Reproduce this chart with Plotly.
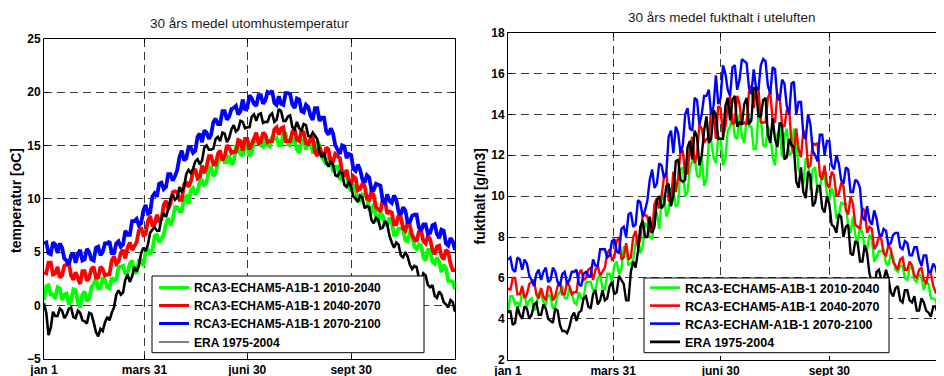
import plotly.graph_objects as go

# ---------------- data ----------------
days = list(range(1, 366, 2))  # day-of-year positions (every 2nd day)

tick_days = [1, 90, 181, 273, 365]
tick_labels = ["jan 1", "mars 31", "juni 30", "sept 30", "dec 31"]

names_left = ["RCA3-ECHAM5-A1B-1 2010-2040", "RCA3-ECHAM5-A1B-1 2040-2070",
              "RCA3-ECHAM5-A1B-1 2070-2100", "ERA 1975-2004"]
names_right = ["RCA3-ECHAM5-A1B-1 2010-2040", "RCA3-ECHAM5-A1B-1 2040-2070",
               "RCA3-ECHAM-A1B-1 2070-2100", "ERA 1975-2004"]

# 30-year mean outdoor temperature [oC]
temp_green = [
    0.5, 1.8, 1.9, 1.0, 1.0, 0.6, 1.7, 1.6, 0.5, 1.0, 1.1, 0.1, 0.4, 1.5, 1.4, 0.3, -0.2, 1.0, 1.3, 0.4,
    0.6, 1.7, 2.0, 2.5, 1.6, 1.6, 2.6, 2.4, 1.7, 1.6, 2.6, 2.3, 2.4, 3.6, 3.6, 3.7, 3.0, 3.0, 3.9, 4.2,
    3.2, 3.0, 4.2, 4.2, 3.7, 5.0, 5.2, 4.8, 5.2, 6.5, 6.6, 5.9, 6.2, 6.6, 7.6, 8.2, 7.5, 8.0, 9.2, 9.2,
    8.8, 8.8, 10.0, 10.2, 9.5, 10.8, 11.0, 10.4, 10.7, 11.6, 11.7, 11.3, 11.5, 12.8, 13.0, 12.1, 12.4, 13.4, 13.7, 14.0,
    13.4, 13.4, 14.1, 13.2, 13.4, 14.8, 14.7, 14.2, 14.0, 15.0, 14.9, 14.0, 14.3, 15.3, 15.5, 15.8, 15.0, 14.9, 15.8, 15.0,
    14.9, 15.8, 15.6, 15.7, 15.0, 15.0, 16.1, 16.1, 15.1, 15.0, 15.7, 15.4, 14.6, 14.3, 15.4, 15.6, 14.6, 15.2, 15.4, 14.4,
    14.5, 15.4, 15.0, 13.9, 13.6, 13.2, 13.9, 13.7, 12.5, 13.0, 13.0, 11.9, 11.8, 12.6, 12.2, 11.2, 10.7, 11.3, 10.9, 9.8,
    9.8, 10.4, 10.3, 10.2, 9.0, 8.8, 9.5, 8.4, 7.8, 8.7, 8.4, 7.6, 7.5, 8.2, 7.8, 6.6, 6.6, 7.2, 7.2, 7.2,
    6.1, 6.0, 6.8, 6.6, 5.5, 5.3, 5.7, 5.6, 4.5, 4.2, 5.2, 5.2, 4.1, 3.9, 4.5, 4.1, 3.1, 3.8, 3.5, 2.3,
    2.3, 2.2, 1.5]
temp_red = [
    3.1, 3.0, 4.0, 4.0, 2.9, 3.0, 3.6, 2.6, 2.8, 3.7, 3.8, 4.0, 2.8, 2.4, 3.1, 2.4, 2.0, 3.2, 3.2, 2.3,
    2.6, 3.4, 3.6, 2.6, 2.6, 3.6, 3.4, 2.8, 2.9, 2.9, 4.2, 4.6, 3.9, 4.1, 4.9, 5.2, 4.4, 5.4, 5.9, 5.2,
    5.6, 5.9, 7.0, 7.3, 6.6, 6.7, 7.9, 8.4, 7.4, 7.6, 8.5, 7.8, 8.1, 9.4, 9.8, 9.0, 9.5, 10.6, 10.7, 10.6,
    9.9, 9.9, 11.3, 11.6, 11.1, 11.6, 12.5, 12.8, 11.9, 12.0, 13.1, 12.4, 13.0, 14.0, 14.0, 13.2, 13.2, 14.2, 14.5, 13.6,
    13.9, 15.0, 14.8, 14.3, 14.4, 14.4, 15.5, 15.4, 14.5, 15.6, 15.6, 14.6, 15.1, 15.8, 16.2, 15.2, 15.3, 16.2, 16.0, 15.3,
    15.4, 15.4, 16.5, 16.7, 16.0, 16.6, 16.7, 15.4, 15.4, 15.4, 16.3, 16.5, 15.5, 15.4, 16.4, 16.2, 15.2, 15.1, 15.6, 15.7,
    14.4, 14.0, 14.9, 14.2, 13.9, 14.8, 14.6, 13.4, 13.5, 14.2, 14.0, 13.8, 12.5, 12.1, 12.7, 11.7, 11.3, 12.1, 11.9, 10.8,
    10.9, 11.4, 11.2, 10.0, 9.9, 10.7, 10.3, 9.2, 9.0, 8.8, 9.9, 9.8, 8.6, 8.8, 8.7, 7.6, 7.6, 8.4, 8.3, 7.2,
    7.0, 7.8, 7.5, 6.6, 6.2, 6.0, 6.9, 7.0, 6.0, 5.8, 6.5, 6.2, 5.2, 4.8, 5.5, 5.6, 4.6, 4.3, 5.2, 5.0,
    3.9, 3.3, 3.3]
temp_blue = [
    5.8, 5.9, 4.9, 4.8, 5.9, 5.7, 4.9, 5.8, 5.4, 4.4, 4.2, 3.8, 4.7, 4.9, 4.0, 4.8, 5.2, 4.2, 4.3, 5.3,
    5.0, 4.3, 4.2, 5.4, 5.5, 4.7, 5.0, 5.8, 5.8, 6.0, 4.9, 4.9, 5.8, 6.0, 5.5, 5.7, 7.0, 6.6, 6.6, 7.9,
    7.9, 8.1, 7.5, 7.7, 8.9, 9.4, 8.6, 8.7, 10.2, 10.5, 10.2, 11.4, 11.5, 10.9, 11.1, 12.3, 12.3, 11.7, 12.1, 12.7,
    13.9, 14.5, 13.6, 13.8, 14.8, 14.8, 14.3, 14.5, 15.8, 16.1, 15.3, 16.4, 16.2, 15.6, 16.0, 17.2, 17.5, 17.0, 17.0, 18.2,
    18.2, 17.4, 17.7, 18.4, 18.5, 18.7, 17.9, 18.2, 19.3, 18.3, 18.5, 19.7, 19.4, 18.9, 18.7, 19.7, 19.7, 18.9, 19.2, 20.0,
    19.9, 20.1, 19.0, 18.8, 19.6, 18.9, 18.8, 19.9, 19.9, 19.8, 18.8, 18.5, 19.4, 19.3, 18.2, 18.1, 18.8, 18.6, 17.8, 17.4,
    18.5, 18.5, 17.3, 17.6, 17.6, 16.3, 16.0, 16.6, 16.1, 15.0, 14.6, 14.2, 15.0, 14.9, 13.8, 14.2, 14.1, 12.8, 12.6, 13.2,
    12.7, 11.8, 11.5, 12.2, 12.0, 10.8, 10.8, 11.4, 11.3, 11.2, 9.8, 9.6, 10.4, 9.8, 9.6, 10.3, 9.9, 8.8, 8.5, 9.2,
    8.9, 7.8, 7.8, 8.4, 8.5, 8.5, 7.3, 7.0, 7.6, 7.6, 6.7, 6.8, 7.5, 7.6, 6.7, 6.3, 7.1, 7.0, 5.8, 5.6,
    6.3, 6.0, 5.2]
temp_era = [
    0.2, -0.7, -2.8, -2.1, -0.6, -1.0, -1.0, -0.3, -0.5, -1.2, -0.9, -0.3, -0.2, -1.1, -1.2, -0.5, -0.7, -1.4, -1.5, -1.7,
    -0.7, -0.8, -1.6, -2.5, -2.9, -2.2, -2.4, -1.6, -1.1, -1.4, -0.7, -0.2, 1.0, 1.4, 1.0, 1.2, 2.4, 2.9, 2.2, 2.7,
    3.6, 3.2, 3.7, 4.9, 5.4, 5.1, 5.7, 6.8, 7.1, 7.3, 7.0, 7.0, 8.2, 8.6, 8.3, 9.0, 10.0, 10.4, 9.9, 10.1,
    11.1, 10.6, 11.1, 12.3, 12.7, 12.4, 12.8, 13.5, 13.7, 13.2, 13.6, 14.8, 15.0, 14.6, 14.6, 14.7, 15.6, 15.8, 15.4, 16.2,
    16.1, 15.3, 15.7, 16.5, 16.9, 16.3, 16.5, 17.3, 17.2, 16.6, 16.7, 16.7, 17.7, 17.9, 17.3, 17.9, 18.0, 17.1, 17.2, 17.2,
    17.8, 18.0, 17.2, 17.4, 18.4, 18.2, 17.3, 17.3, 17.7, 17.8, 16.7, 16.5, 17.2, 16.6, 16.4, 17.0, 16.9, 15.9, 15.8, 16.2,
    15.9, 15.6, 14.4, 13.9, 14.3, 13.4, 13.0, 13.5, 13.2, 12.2, 12.1, 12.5, 12.4, 11.3, 11.1, 11.6, 11.1, 10.2, 10.0, 9.7,
    10.3, 10.1, 9.1, 9.3, 9.2, 8.0, 7.7, 8.2, 8.0, 7.2, 7.3, 7.9, 7.6, 6.5, 5.9, 5.4, 5.9, 5.7, 4.7, 4.5,
    5.0, 4.6, 3.8, 3.4, 3.7, 3.6, 2.6, 2.3, 3.0, 2.8, 1.9, 1.7, 1.9, 0.9, 0.7, 1.3, 1.0, 0.3, 0.1, -0.2,
    0.5, 0.3, -0.6]

# 30-year mean outdoor humidity [g/m3]
hum_green = [
    4.3, 5.1, 5.1, 4.7, 4.8, 4.6, 5.3, 5.2, 4.6, 4.9, 5.0, 4.4, 4.6, 5.3, 5.2, 4.8, 4.7, 5.2, 5.1, 4.5,
    4.6, 5.2, 5.3, 5.6, 5.0, 5.0, 5.5, 5.3, 4.8, 4.7, 5.3, 5.0, 5.0, 5.8, 5.8, 5.8, 5.4, 5.4, 6.0, 6.1,
    5.5, 5.4, 6.2, 6.2, 5.8, 6.6, 6.8, 6.2, 6.4, 7.5, 7.5, 6.6, 6.7, 6.9, 7.7, 8.1, 7.2, 7.5, 8.7, 8.5,
    8.0, 7.9, 9.0, 9.2, 8.4, 9.8, 10.1, 9.0, 9.3, 10.4, 10.3, 9.5, 9.6, 11.3, 11.4, 10.0, 10.2, 11.4, 11.7, 12.0,
    11.0, 10.9, 11.9, 10.5, 10.8, 12.7, 12.7, 11.9, 11.6, 12.9, 12.8, 11.5, 11.8, 13.2, 13.4, 14.0, 12.9, 12.8, 14.0, 12.9,
    12.6, 13.8, 13.4, 13.4, 12.3, 12.3, 14.0, 13.9, 12.5, 12.4, 13.4, 13.1, 11.9, 11.5, 13.0, 13.3, 11.9, 12.9, 13.3, 12.0,
    12.1, 13.3, 12.8, 11.3, 11.0, 10.6, 11.8, 11.8, 10.3, 11.3, 11.4, 10.2, 10.3, 11.2, 11.0, 10.1, 9.8, 10.4, 10.0, 8.9,
    9.0, 9.7, 9.6, 9.6, 8.5, 8.2, 9.0, 8.1, 7.6, 8.5, 8.2, 7.4, 7.4, 8.1, 7.9, 6.8, 7.0, 7.3, 7.3, 7.4,
    6.7, 6.6, 7.2, 7.0, 6.4, 6.3, 6.6, 6.6, 6.0, 5.9, 6.5, 6.6, 5.9, 5.8, 6.2, 6.0, 5.4, 5.8, 5.7, 5.0,
    5.0, 4.9, 4.5]
hum_red = [
    5.5, 5.4, 6.0, 6.0, 5.2, 5.2, 5.6, 5.0, 5.2, 5.7, 5.8, 5.9, 5.2, 5.0, 5.5, 5.1, 4.9, 5.6, 5.5, 4.9,
    5.1, 5.6, 5.8, 5.2, 5.2, 5.8, 5.6, 5.2, 5.3, 5.3, 6.2, 6.4, 5.9, 6.0, 6.4, 6.5, 5.9, 6.4, 6.6, 6.1,
    6.3, 6.5, 7.2, 7.4, 6.9, 7.0, 7.8, 8.0, 6.9, 7.0, 7.7, 6.9, 7.0, 8.0, 8.3, 7.5, 7.9, 9.0, 9.1, 9.0,
    8.3, 8.2, 9.6, 9.9, 9.4, 10.0, 10.9, 11.2, 9.8, 9.8, 11.2, 10.2, 10.9, 12.2, 12.2, 11.1, 11.1, 12.4, 12.9, 11.6,
    12.0, 13.5, 13.3, 12.6, 12.8, 12.8, 14.3, 14.1, 12.8, 14.4, 14.3, 12.9, 13.4, 14.4, 14.9, 13.5, 13.6, 14.9, 14.5, 13.5,
    13.6, 13.5, 15.1, 15.4, 14.3, 15.2, 15.3, 13.6, 13.6, 13.6, 14.8, 15.1, 13.7, 13.6, 15.0, 14.8, 13.5, 13.4, 14.2, 14.3,
    12.5, 12.1, 13.3, 12.3, 11.9, 13.2, 13.0, 11.4, 11.5, 12.6, 12.5, 12.6, 11.0, 10.8, 11.5, 10.6, 10.4, 11.2, 11.0, 10.0,
    10.1, 10.6, 10.5, 9.3, 9.1, 10.0, 9.6, 8.6, 8.5, 8.4, 9.4, 9.3, 8.2, 8.5, 8.4, 7.4, 7.6, 8.0, 7.9, 7.2,
    7.1, 7.6, 7.4, 6.8, 6.6, 6.4, 6.9, 7.0, 6.4, 6.4, 6.8, 6.6, 6.1, 6.0, 6.4, 6.5, 5.9, 5.7, 6.3, 6.2,
    5.6, 5.3, 5.4]
hum_blue = [
    6.9, 7.0, 6.4, 6.3, 7.0, 6.9, 6.4, 6.9, 6.7, 6.1, 5.9, 5.6, 6.2, 6.4, 5.9, 6.3, 6.5, 5.8, 5.9, 6.5,
    6.3, 5.8, 5.6, 6.2, 6.3, 5.7, 5.9, 6.3, 6.3, 6.4, 5.7, 5.6, 6.2, 6.3, 6.1, 6.1, 6.9, 6.6, 6.6, 7.4,
    7.4, 7.4, 7.0, 7.1, 7.8, 7.9, 7.3, 7.2, 8.4, 8.5, 8.0, 9.1, 9.2, 8.5, 8.6, 9.8, 9.7, 9.0, 9.3, 9.8,
    10.8, 11.3, 10.4, 10.6, 11.6, 11.5, 10.9, 11.1, 12.9, 13.2, 12.1, 13.4, 13.1, 12.1, 12.5, 14.0, 14.3, 13.3, 13.2, 14.8,
    14.7, 13.5, 14.0, 14.9, 14.9, 15.2, 14.0, 14.4, 15.9, 14.5, 14.8, 16.4, 16.0, 15.2, 14.9, 16.3, 16.4, 15.2, 15.7, 16.7,
    16.6, 16.5, 15.3, 15.0, 16.2, 15.3, 15.2, 16.4, 16.7, 16.6, 15.4, 15.0, 16.3, 16.2, 14.8, 14.7, 15.7, 15.5, 14.4, 14.0,
    15.5, 15.6, 14.0, 14.6, 14.6, 13.0, 12.8, 14.0, 13.5, 12.2, 12.0, 11.7, 13.0, 13.0, 12.0, 12.7, 12.7, 11.5, 11.3, 12.0,
    11.6, 10.8, 10.6, 11.4, 11.3, 10.2, 10.2, 10.8, 10.7, 10.4, 9.0, 8.8, 9.5, 8.8, 8.6, 9.3, 8.9, 8.2, 8.0, 8.4,
    8.3, 7.6, 7.7, 8.1, 8.2, 8.2, 7.5, 7.4, 7.8, 7.7, 7.1, 7.1, 7.5, 7.5, 6.9, 6.6, 7.1, 7.1, 6.3, 6.3,
    6.7, 6.5, 6.0]
hum_era = [
    4.3, 4.4, 3.7, 3.8, 4.6, 4.2, 4.0, 4.6, 4.5, 4.0, 4.2, 4.7, 4.8, 4.2, 4.2, 4.7, 4.5, 4.0, 3.9, 3.8,
    4.5, 4.4, 3.7, 3.4, 3.4, 3.3, 3.6, 4.1, 4.3, 3.9, 4.3, 4.4, 5.0, 5.1, 4.6, 4.5, 5.2, 5.4, 4.7, 4.9,
    5.4, 4.9, 5.0, 5.6, 5.8, 5.2, 5.3, 6.1, 5.9, 5.7, 4.9, 4.9, 6.3, 6.8, 6.5, 7.3, 8.5, 8.8, 8.0, 8.0,
    9.0, 8.2, 8.5, 9.8, 10.0, 9.4, 9.6, 10.5, 10.6, 9.5, 10.0, 11.7, 11.8, 10.8, 10.7, 10.8, 12.4, 12.7, 11.8, 13.2,
    12.9, 11.5, 12.0, 13.2, 13.9, 12.6, 12.8, 14.2, 14.0, 12.8, 12.8, 12.8, 14.4, 14.8, 13.7, 14.7, 14.9, 13.4, 13.6, 13.5,
    14.5, 14.8, 13.5, 13.7, 15.3, 15.2, 13.9, 13.9, 14.7, 14.8, 13.0, 12.6, 13.8, 12.8, 12.4, 13.6, 13.4, 11.8, 11.9, 12.8,
    12.5, 12.4, 10.7, 10.4, 11.4, 10.2, 9.9, 11.2, 11.0, 9.5, 9.7, 10.5, 10.5, 9.4, 9.2, 10.0, 9.6, 8.6, 8.5, 8.2,
    9.1, 9.0, 8.0, 8.5, 8.6, 7.2, 7.1, 7.8, 7.7, 6.8, 6.8, 7.6, 7.2, 6.2, 5.8, 5.4, 6.3, 6.4, 5.9, 5.9,
    6.4, 6.0, 5.3, 5.1, 5.5, 5.6, 4.9, 4.8, 5.4, 5.4, 4.9, 4.8, 5.1, 4.4, 4.4, 5.0, 4.8, 4.4, 4.3, 4.1,
    4.6, 4.6, 4.2]

colors = ["#00ff00", "#ff0000", "#0000ff", "#000000"]

# ---------------- figure ----------------
# the page body has an 8px margin, so the figure is laid out in window pixels minus 8
OFF = 8
W, H = 944 - OFF, 376 - OFF
def px(x):
    return (x - OFF) / W
def py(y):
    return 1 - (y - OFF) / H

FONT = "Liberation Sans, Arial, sans-serif"
fig = go.Figure()

# data traces
left_series = [temp_green, temp_red, temp_blue, temp_era]
left_widths = [3.8, 3.8, 3.8, 2.6]
for ys, c, w in zip(left_series, colors, left_widths):
    fig.add_trace(go.Scatter(x=days, y=ys, mode="lines", showlegend=False,
                             line=dict(color=c, width=w), xaxis="x", yaxis="y"))

right_series = [hum_green, hum_red, hum_blue, hum_era]
for ys, c in zip(right_series, colors):
    fig.add_trace(go.Scatter(x=days, y=ys, mode="lines", showlegend=False,
                             line=dict(color=c, width=2.4), xaxis="x2", yaxis="y2"))

# legend entries (one legend per row so rows match the reference spacing)
LEG_FONT = dict(family=FONT, size=12, color="black", weight="bold")
legend_layouts = {}
left_rows = [287.5, 305.5, 323.5, 342]
left_leg_w = [3, 3, 3, 1.2]
right_rows = [288, 306, 324, 342.3]
for k, (name, c, w, yr) in enumerate(zip(names_left, colors, left_leg_w, left_rows)):
    lname = "legend" if k == 0 else "legend%d" % (k + 1)
    fig.add_trace(go.Scatter(x=[None], y=[None], mode="lines", name=name,
                             line=dict(color=c, width=w), xaxis="x", yaxis="y",
                             legend=lname, showlegend=True))
    legend_layouts[lname] = dict(x=px(154), y=py(yr), xanchor="left", yanchor="middle",
                                 bgcolor="rgba(0,0,0,0)", borderwidth=0, font=LEG_FONT)
for k, (name, c, yr) in enumerate(zip(names_right, colors, right_rows)):
    lname = "legend%d" % (k + 5)
    fig.add_trace(go.Scatter(x=[None], y=[None], mode="lines", name=name,
                             line=dict(color=c, width=2.6), xaxis="x2", yaxis="y2",
                             legend=lname, showlegend=True))
    legend_layouts[lname] = dict(x=px(645), y=py(yr), xanchor="left", yanchor="middle",
                                 bgcolor="rgba(0,0,0,0)", borderwidth=0,
                                 font=dict(family=FONT, size=12.5, color="black", weight="bold"))

axis_common = dict(showline=True, linecolor="black", linewidth=1, mirror="ticks",
                   ticks="inside", ticklen=4, tickcolor="black",
                   showgrid=True, gridcolor="#3a3a3a", gridwidth=1, griddash="8px,5px",
                   zeroline=False, automargin=False, fixedrange=True,
                   tickfont=dict(family=FONT, size=12, color="black", weight="bold"))

fig.update_layout(
    template="none",
    width=W, height=H,
    margin=dict(l=0, r=0, t=0, b=0, autoexpand=False),
    paper_bgcolor="white", plot_bgcolor="white",
    xaxis=dict(domain=[px(44), px(455)], range=[1, 365], anchor="y",
               tickvals=tick_days, ticktext=tick_labels, **axis_common),
    yaxis=dict(domain=[py(358.7), py(38.7)], range=[-5, 25], anchor="x",
               tickvals=[-5, 0, 5, 10, 15, 20, 25], **axis_common),
    xaxis2=dict(domain=[px(508), px(938)], range=[1, 365], anchor="y2",
                tickvals=tick_days, ticktext=tick_labels, **axis_common),
    yaxis2=dict(domain=[py(359.7), py(32.5)], range=[2, 18], anchor="x2",
                tickvals=[2, 4, 6, 8, 10, 12, 14, 16, 18], **axis_common),
    showlegend=True,
    shapes=[
        dict(type="rect", xref="paper", yref="paper", x0=px(152), x1=px(424),
             y0=py(352.7), y1=py(276), fillcolor="white",
             line=dict(color="black", width=1), layer="above"),
        dict(type="rect", xref="paper", yref="paper", x0=px(644), x1=px(889),
             y0=py(352.7), y1=py(278), fillcolor="white",
             line=dict(color="black", width=1), layer="above"),
        dict(type="rect", xref="paper", yref="paper", x0=px(457), x1=px(488),
             y0=py(376), y1=py(360), fillcolor="white", line=dict(width=0), layer="above"),
    ],
    annotations=[
        dict(text="30 års medel utomhustemperatur", x=px(249.5), y=py(23.5),
             xref="paper", yref="paper", showarrow=False, xanchor="center", yanchor="middle",
             font=dict(family=FONT, size=13.5, color="#1a1a1a")),
        dict(text="30 års medel fukthalt i uteluften", x=px(721.5), y=py(17.5),
             xref="paper", yref="paper", showarrow=False, xanchor="center", yanchor="middle",
             font=dict(family=FONT, size=13.5, color="#1a1a1a")),
        dict(text="temperatur [oC]", x=px(16), y=py(201), textangle=-90,
             xref="paper", yref="paper", showarrow=False, xanchor="center", yanchor="middle",
             font=dict(family=FONT, size=14, color="black", weight="bold")),
        dict(text="fukthalt [g/m3]", x=px(479), y=py(196.5), textangle=-90,
             xref="paper", yref="paper", showarrow=False, xanchor="center", yanchor="middle",
             font=dict(family=FONT, size=14, color="black", weight="bold")),
    ],
    **legend_layouts,
)

fig.write_html("out.html")
